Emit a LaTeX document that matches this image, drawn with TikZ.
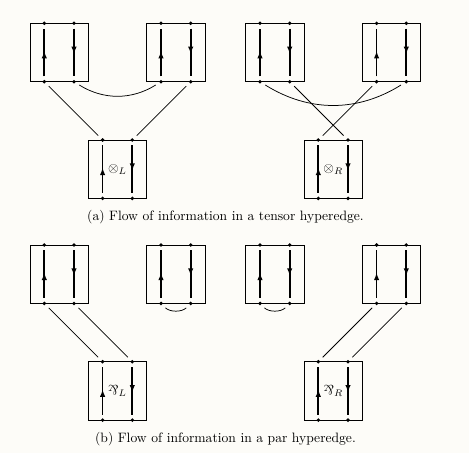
\documentclass[tikz,border=0pt]{standalone}
\usetikzlibrary{arrows.meta,decorations.markings}
\definecolor{bgcol}{RGB}{253,252,248}
\newcommand{\myparr}{\mathbin{\rotatebox[origin=c]{180}{$\&$}}}
\tikzset{
  boxline/.style={line width=0.6pt},
  dotn/.style={circle,fill=black,inner sep=0pt,minimum size=2.8pt},
  wire/.style={line width=1.3pt,shorten <=2.4pt,shorten >=2.4pt},
  arrowmid/.style={postaction={decorate},decoration={markings,
     mark=at position 0.53 with {\arrow{Latex[length=5.5pt,width=4pt]}}}},
  conn/.style={line width=0.55pt,shorten <=3pt,shorten >=3pt},
  lbl/.style={inner sep=0pt},
  captext/.style={inner sep=0pt,anchor=base}
}
\newcommand{\unitbox}[3]{%
  \draw[boxline] (#2,-#3) rectangle ++(58.4,-58.4);
  \node[dotn] (#1-lt) at (#2+14.3,-#3) {};
  \node[dotn] (#1-rt) at (#2+44,-#3) {};
  \node[dotn] (#1-lb) at (#2+14.3,-#3-58.4) {};
  \node[dotn] (#1-rb) at (#2+44,-#3-58.4) {};
  \draw[wire,arrowmid] (#1-lb) -- (#1-lt);
  \draw[wire,arrowmid] (#1-rt) -- (#1-rb);
}
\begin{document}
\begin{tikzpicture}[x=0.7353pt,y=0.7353pt]
\fill[bgcol] (0,0) rectangle (469,-453);
\useasboundingbox (0,0) rectangle (469,-453);
% (a) tensor left
\unitbox{a1}{30}{23.3}
\unitbox{a2}{146.7}{23.3}
\unitbox{a3}{88.3}{140}
\draw[conn] (a1-lb) -- (a3-lt);
\draw[conn] (a2-rb) -- (a3-rt);
\draw[conn] (a1-rb) to[bend right=32] (a2-lb);
\node[lbl] (la) at (117.5,-169.5) {$\otimes_L$};
% (a) tensor right
\unitbox{b1}{245.7}{23.3}
\unitbox{b2}{362.3}{23.3}
\unitbox{b3}{304}{140}
\draw[conn] (b1-rb) -- (b3-rt);
\draw[conn] (b2-lb) -- (b3-lt);
\draw[conn] (b1-lb) to[bend right=32] (b2-rb);
\node[lbl] (lb) at (333.2,-169.5) {$\otimes_R$};
\node[captext] (capa) at (225.5,-220) {(a) Flow of information in a tensor hyperedge.};
% (b) par left
\unitbox{c1}{30}{245}
\unitbox{c2}{146.7}{245}
\unitbox{c3}{88.3}{361.7}
\draw[conn] (c1-lb) -- (c3-lt);
\draw[conn] (c1-rb) -- (c3-rt);
\draw[conn] (c2-lb) to[bend right=45] (c2-rb);
\node[lbl] (lc) at (117.5,-391.2) {$\myparr_L$};
% (b) par right
\unitbox{d1}{245.7}{245}
\unitbox{d2}{362.3}{245}
\unitbox{d3}{304}{361.7}
\draw[conn] (d2-lb) -- (d3-lt);
\draw[conn] (d2-rb) -- (d3-rt);
\draw[conn] (d1-lb) to[bend right=45] (d1-rb);
\node[lbl] (ld) at (333.2,-391.2) {$\myparr_R$};
\node[captext] (capb) at (225.5,-442) {(b) Flow of information in a par hyperedge.};
\end{tikzpicture}
\end{document}
